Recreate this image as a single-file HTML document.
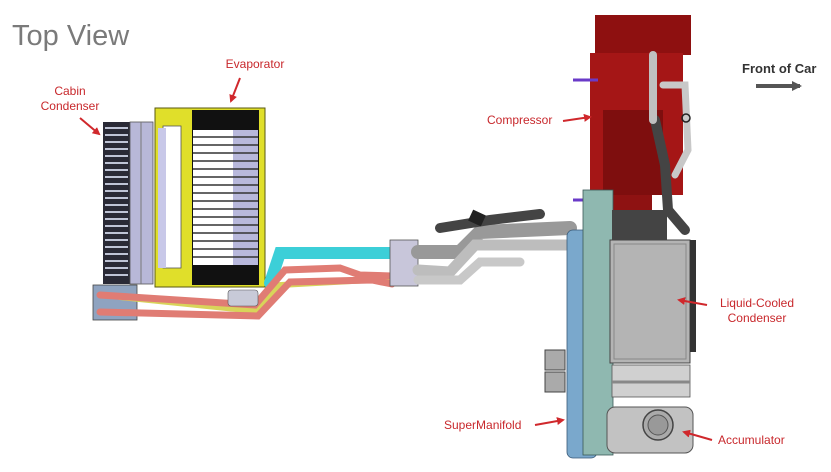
<!DOCTYPE html>
<html><head><meta charset="utf-8"><style>
html,body{margin:0;padding:0;background:#fff;width:831px;height:472px;overflow:hidden}
svg{display:block}
text{font-family:"Liberation Sans",sans-serif}
.r{fill:#c8282c;font-size:12px}
</style></head><body>
<svg width="831" height="472" viewBox="0 0 831 472" xmlns="http://www.w3.org/2000/svg">
<defs>
<marker id="ar" markerWidth="8" markerHeight="8" refX="6" refY="4" orient="auto" markerUnits="userSpaceOnUse"><path d="M0,0 L8,4 L0,8 Z" fill="#d0282c"/></marker>
<marker id="ag" markerWidth="10" markerHeight="10" refX="8" refY="5" orient="auto" markerUnits="userSpaceOnUse"><path d="M0,0 L10,5 L0,10 Z" fill="#555"/></marker>
</defs>
<text x="12" y="45" font-size="29" fill="#7a7a7a">Top View</text>
<text class="r" x="70" y="95" text-anchor="middle">Cabin</text>
<text class="r" x="70" y="110" text-anchor="middle">Condenser</text>
<line x1="80" y1="118" x2="99" y2="134" stroke="#d0282c" stroke-width="2" marker-end="url(#ar)"/>
<text class="r" x="255" y="68" text-anchor="middle">Evaporator</text>
<line x1="240" y1="78" x2="231" y2="101" stroke="#d0282c" stroke-width="2" marker-end="url(#ar)"/>

<rect x="103" y="122" width="27" height="162" fill="#2a2a36"/>
<g stroke="#bfc4d6" stroke-width="2">
<line x1="105" y1="128" x2="128" y2="128"/><line x1="105" y1="135" x2="128" y2="135"/><line x1="105" y1="142" x2="128" y2="142"/><line x1="105" y1="149" x2="128" y2="149"/><line x1="105" y1="156" x2="128" y2="156"/><line x1="105" y1="163" x2="128" y2="163"/><line x1="105" y1="170" x2="128" y2="170"/><line x1="105" y1="177" x2="128" y2="177"/><line x1="105" y1="184" x2="128" y2="184"/><line x1="105" y1="191" x2="128" y2="191"/><line x1="105" y1="198" x2="128" y2="198"/><line x1="105" y1="205" x2="128" y2="205"/><line x1="105" y1="212" x2="128" y2="212"/><line x1="105" y1="219" x2="128" y2="219"/><line x1="105" y1="226" x2="128" y2="226"/><line x1="105" y1="233" x2="128" y2="233"/><line x1="105" y1="240" x2="128" y2="240"/><line x1="105" y1="247" x2="128" y2="247"/><line x1="105" y1="254" x2="128" y2="254"/><line x1="105" y1="261" x2="128" y2="261"/><line x1="105" y1="268" x2="128" y2="268"/><line x1="105" y1="275" x2="128" y2="275"/>
</g>
<rect x="130" y="122" width="23" height="162" fill="#b8b8d8" stroke="#555" stroke-width="0.8"/>
<line x1="141" y1="122" x2="141" y2="284" stroke="#777"/>
<rect x="155" y="108" width="110" height="179" fill="#e0df2a" stroke="#5a5a10" stroke-width="1"/>
<rect x="163" y="126" width="18" height="142" fill="#fff" stroke="#555" stroke-width="0.8"/>
<rect x="158" y="128" width="8" height="140" fill="#c8c8e8"/>
<rect x="192" y="110" width="67" height="175" fill="#111"/>
<rect x="193" y="130" width="40" height="135" fill="#fff"/>
<rect x="233" y="130" width="25" height="135" fill="#b8b8dc"/>
<g stroke="#333" stroke-width="1.4">
<line x1="193" y1="137" x2="258" y2="137"/><line x1="193" y1="145" x2="258" y2="145"/><line x1="193" y1="153" x2="258" y2="153"/><line x1="193" y1="161" x2="258" y2="161"/><line x1="193" y1="169" x2="258" y2="169"/><line x1="193" y1="177" x2="258" y2="177"/><line x1="193" y1="185" x2="258" y2="185"/><line x1="193" y1="193" x2="258" y2="193"/><line x1="193" y1="201" x2="258" y2="201"/><line x1="193" y1="209" x2="258" y2="209"/><line x1="193" y1="217" x2="258" y2="217"/><line x1="193" y1="225" x2="258" y2="225"/><line x1="193" y1="233" x2="258" y2="233"/><line x1="193" y1="241" x2="258" y2="241"/><line x1="193" y1="249" x2="258" y2="249"/><line x1="193" y1="257" x2="258" y2="257"/>
</g>
<rect x="93" y="285" width="44" height="35" fill="#8fa3c0" stroke="#444" stroke-width="0.8"/>
<g fill="none" stroke-linecap="round">
<path d="M120,297 L255,311 L280,285 L370,280 L392,278" stroke="#d8d45a" stroke-width="6"/>
<path d="M270,283 L280,253 L392,253" stroke="#3ccfd8" stroke-width="12"/>
<path d="M100,295 L255,305 L285,270 L340,268 L360,275 L392,276" stroke="#e07c74" stroke-width="7"/>
<path d="M100,312 L258,316 L290,282 L372,280 L392,284" stroke="#e07c74" stroke-width="7"/>
</g>
<rect x="228" y="290" width="30" height="16" fill="#c8cad8" stroke="#555" stroke-width="0.6" rx="3"/>
<rect x="390" y="240" width="28" height="46" fill="#c8c6da" stroke="#555" stroke-width="0.8"/>
<g fill="none" stroke-linecap="round">
<path d="M418,252 L460,252 L480,232 L570,228" stroke="#999" stroke-width="14"/>
<path d="M418,270 L450,272 L475,245 L570,245" stroke="#bdbdbd" stroke-width="11"/>
<path d="M440,228 L490,220 L540,214" stroke="#444" stroke-width="10"/>
<path d="M418,280 L460,280 L480,262 L520,262" stroke="#c8c8c8" stroke-width="9"/>
</g>
<rect x="470" y="212" width="14" height="12" fill="#222" transform="rotate(25 477 218)"/>
<!-- compressor -->
<rect x="595" y="15" width="96" height="40" fill="#8e1010"/>
<rect x="590" y="53" width="93" height="142" fill="#a51616"/>
<rect x="603" y="110" width="60" height="85" fill="#7e0e0e"/>
<rect x="600" y="195" width="52" height="15" fill="#8e1212"/>
<line x1="573" y1="80" x2="598" y2="80" stroke="#6a3ac8" stroke-width="3"/>
<line x1="573" y1="200" x2="600" y2="200" stroke="#6a3ac8" stroke-width="3"/>
<g fill="none" stroke-linecap="round">
<path d="M655,120 L665,165 L668,210 L685,230" stroke="#444" stroke-width="10"/>
<path d="M653,55 L653,120" stroke="#c0c0c0" stroke-width="8"/>
<path d="M663,85 L685,85 L688,150 L675,175" stroke="#c8c8c8" stroke-width="7"/>
</g>
<circle cx="686" cy="118" r="4" fill="none" stroke="#222" stroke-width="1.5"/>
<rect x="567" y="230" width="30" height="228" fill="#7aa8cc" stroke="#3a5a78" stroke-width="0.8" rx="6"/>
<rect x="583" y="190" width="30" height="265" fill="#8fb8b0" stroke="#3a5a58" stroke-width="0.8"/>
<rect x="545" y="350" width="20" height="20" fill="#aaa" stroke="#444"/>
<rect x="545" y="372" width="20" height="20" fill="#aaa" stroke="#444"/>
<rect x="610" y="240" width="80" height="123" fill="#b4b4b4" stroke="#444" stroke-width="1"/>
<rect x="614" y="244" width="72" height="115" fill="none" stroke="#888"/>
<rect x="690" y="240" width="6" height="112" fill="#333"/>
<rect x="612" y="210" width="55" height="30" fill="#444"/>
<rect x="612" y="365" width="78" height="32" fill="#d0d0d0" stroke="#555" stroke-width="0.8"/>
<line x1="612" y1="382" x2="690" y2="382" stroke="#888" stroke-width="3"/>
<rect x="607" y="407" width="86" height="46" fill="#c2c2c2" stroke="#555" stroke-width="1" rx="8"/>
<circle cx="658" cy="425" r="15" fill="#aaa" stroke="#444" stroke-width="1.5"/>
<circle cx="658" cy="425" r="10" fill="#999" stroke="#555"/>
<text class="r" x="487" y="124">Compressor</text>
<line x1="563" y1="121" x2="590" y2="117" stroke="#d0282c" stroke-width="2" marker-end="url(#ar)"/>
<text x="742" y="73" font-size="13" font-weight="bold" fill="#333">Front of Car</text>
<line x1="756" y1="86" x2="800" y2="86" stroke="#555" stroke-width="4" marker-end="url(#ag)"/>
<text class="r" x="757" y="307" text-anchor="middle">Liquid-Cooled</text>
<text class="r" x="757" y="322" text-anchor="middle">Condenser</text>
<line x1="707" y1="305" x2="679" y2="300" stroke="#d0282c" stroke-width="2" marker-end="url(#ar)"/>
<text class="r" x="718" y="444">Accumulator</text>
<line x1="712" y1="440" x2="684" y2="432" stroke="#d0282c" stroke-width="2" marker-end="url(#ar)"/>
<text class="r" x="444" y="429">SuperManifold</text>
<line x1="535" y1="425" x2="563" y2="420" stroke="#d0282c" stroke-width="2" marker-end="url(#ar)"/>
</svg>
</body></html>
